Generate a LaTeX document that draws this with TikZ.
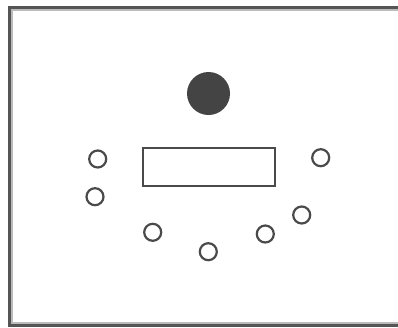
\documentclass[tikz,border=0pt]{standalone}
\begin{document}
\begin{tikzpicture}[x=1pt,y=-1pt,
  seat/.style={circle,draw=linec,line width=2.2pt,minimum size=17pt,inner sep=0pt},
  host/.style={circle,fill=fillc,minimum size=43pt,inner sep=0pt},
  tablebox/.style={rectangle,draw=linec,line width=2.2pt,minimum width=132pt,minimum height=38pt,inner sep=0pt}]
\definecolor{linec}{HTML}{4A4A4A}
\definecolor{fillc}{HTML}{444444}
\definecolor{framec}{HTML}{555555}
\definecolor{shadec}{HTML}{BBBBBB}
\useasboundingbox (0,0) rectangle (398,327);
% frame (top, left, bottom)
\draw[shadec,line width=1.2pt] (398,10) -- (12,10) -- (12,323) -- (398,323);
\draw[framec,line width=3pt] (398,7.5) -- (9.5,7.5) -- (9.5,325) -- (398,325);
\node[host] (h) at (208.5,93.5) {};
\node[tablebox] (t) at (209,167.3) {};
\node[seat] (s1) at (97.7,159) {};
\node[seat] (s2) at (95,196.7) {};
\node[seat] (s3) at (152.7,232.3) {};
\node[seat] (s4) at (208.3,251.7) {};
\node[seat] (s5) at (265.3,234) {};
\node[seat] (s6) at (301.7,215) {};
\node[seat] (s7) at (320.7,157.7) {};
\end{tikzpicture}
\end{document}
